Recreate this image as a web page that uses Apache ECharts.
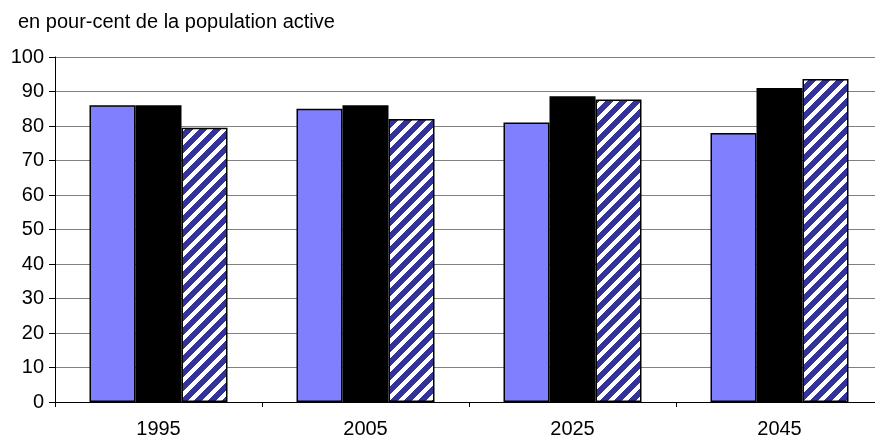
<!DOCTYPE html>
<html>
<head>
<meta charset="utf-8">
<script src="https://cdn.jsdelivr.net/npm/echarts@6/dist/echarts.min.js"></script>
<style>
  html, body { margin: 0; padding: 0; background: #fff; overflow: hidden; }
  #chart { width: 890px; height: 439px; }
</style>
</head>
<body>
<div id="chart"></div>
<script>
// Categories (years) and the three series, in per cent of the active population
const years = ['1995', '2005', '2025', '2045'];
const serieBleue = [86, 85, 81, 78];
const serieNoire = [86, 86, 88.6, 91];
const serieHachuree = [79.5, 82, 87.7, 93.6];

const FONT = '"Liberation Sans", Arial, sans-serif';

// Navy tile with white diagonal "/" stripes
function hatchTile() {
  const s = 14;
  const c = document.createElement('canvas');
  c.width = s; c.height = s;
  const g = c.getContext('2d');
  const img = g.createImageData(s, s);
  for (let y = 0; y < s; y++) {
    for (let x = 0; x < s; x++) {
      const k = (x + y) % s;
      const white = k < 6;
      const i = (y * s + x) * 4;
      img.data[i] = white ? 255 : 0x33;
      img.data[i + 1] = white ? 255 : 0x33;
      img.data[i + 2] = white ? 255 : 0x99;
      img.data[i + 3] = 255;
    }
  }
  g.putImageData(img, 0, 0);
  return c;
}

const chart = echarts.init(document.getElementById('chart'), null, { renderer: 'canvas' });

chart.setOption({
  animation: false,
  backgroundColor: '#ffffff',
  title: {
    text: 'en pour-cent de la population active',
    left: 18, top: 12, padding: 0,
    textStyle: { fontFamily: FONT, fontSize: 20, fontWeight: 'normal', color: '#000' }
  },
  // the plot runs slightly past the visible right edge
  grid: { left: 55, top: 57, width: 828, height: 345, containLabel: false },
  xAxis: {
    type: 'category',
    data: years,
    axisLine: { lineStyle: { color: '#000', width: 1 } },
    axisTick: { show: true, alignWithLabel: false, length: 5, lineStyle: { color: '#000' } },
    axisLabel: { margin: 17, fontFamily: FONT, fontSize: 20, color: '#000' }
  },
  yAxis: {
    type: 'value',
    min: 0, max: 100, interval: 10,
    axisLine: { show: true, lineStyle: { color: '#000', width: 1 } },
    axisTick: { show: true, length: 6, lineStyle: { color: '#000' } },
    axisLabel: { margin: 11, fontFamily: FONT, fontSize: 20, color: '#000' },
    splitLine: { show: true, lineStyle: { color: '#808080', width: 1 } }
  },
  series: [
    {
      name: 'bleu', type: 'bar', data: serieBleue,
      barWidth: 46, barGap: '0%',
      itemStyle: { color: '#8080ff', borderColor: '#000', borderWidth: 1.5 }
    },
    {
      name: 'noir', type: 'bar', data: serieNoire,
      barWidth: 46, barGap: '0%',
      itemStyle: { color: '#000000', borderWidth: 0 }
    },
    {
      name: 'hachuré', type: 'bar', data: serieHachuree,
      barWidth: 46, barGap: '0%',
      itemStyle: { color: { image: hatchTile(), repeat: 'repeat' }, borderColor: '#000', borderWidth: 1.5 }
    }
  ]
});
</script>
</body>
</html>
